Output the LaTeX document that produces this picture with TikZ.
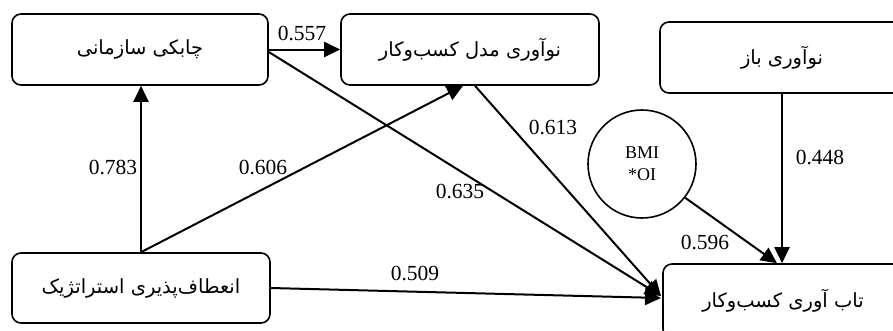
\documentclass[tikz,border=0pt]{standalone}
\usepackage{fontspec}
\setmainfont{Liberation Serif}
\newfontfamily\fa[Script=Arabic]{DejaVu Sans}
\TeXXeTstate=1
\usetikzlibrary{arrows.meta}
\tikzset{
  box/.style={draw, line width=1.6pt, rounded corners=9pt, align=center, inner sep=0pt,
    font=\fa\fontsize{19.5}{22}\selectfont},
  lnk/.style={line width=2pt, -{Triangle[length=16pt,width=15pt]}},
  lbl/.style={font=\fontsize{21.5}{24}\selectfont, inner sep=0pt},
  circ/.style={draw, line width=1.6pt, circle, minimum size=108pt, inner sep=0pt, align=center,
    font=\fontsize{18}{22}\selectfont}
}
\begin{document}
\begin{tikzpicture}[x=1pt,y=-1pt]
\useasboundingbox (0,0) rectangle (893,330);
\clip (0,0) rectangle (893,330);
\fill[white] (0,0) rectangle (893,330);
\node[box, minimum width=256pt, minimum height=71pt] (A) at (140,49.5) {\beginR چابکی سازمانی\endR};
\node[box, minimum width=258pt, minimum height=71pt] (B) at (470,49.5) {\beginR نوآوری مدل کسب‌وکار\endR};
\node[box, minimum width=244pt, minimum height=71pt] (C) at (782,57.5) {\beginR نوآوری باز\endR};
\node[box, minimum width=258pt, minimum height=70pt] (D) at (141,288) {\beginR انعطاف‌پذیری استراتژیک\endR};
\node[box, minimum width=240pt, minimum height=74pt] (E) at (783,301) {\beginR تاب آوری کسب‌وکار\endR};
\node[circ] (F) at (642,164) {BMI\\*OI};

\coordinate (Ein) at (661,296);
\draw[lnk] (A.east) -- (B.west);
\draw[lnk] (D.north) -- (D.north |- A.south);
\draw[lnk] (D.north) -- ([xshift=-7pt]B.south);
\draw[lnk] ([yshift=-2.5pt]A.east) -- (Ein);
\draw[lnk] ([xshift=5pt]B.south) -- (Ein);
\draw[lnk] (D.east) -- ([yshift=-2pt]Ein);
\draw[lnk] (F.-38) -- ([xshift=-6pt]E.north);
\draw[lnk] (C.south) -- (C.south |- E.north);

\node[lbl] (l1) at (302,33) {0.557};
\node[lbl] (l2) at (113,167) {0.783};
\node[lbl] (l3) at (263,167) {0.606};
\node[lbl] (l4) at (460,191) {0.635};
\node[lbl] (l5) at (553,127) {0.613};
\node[lbl] (l6) at (415,273) {0.509};
\node[lbl] (l7) at (705,242) {0.596};
\node[lbl] (l8) at (820,157) {0.448};
\end{tikzpicture}
\end{document}
